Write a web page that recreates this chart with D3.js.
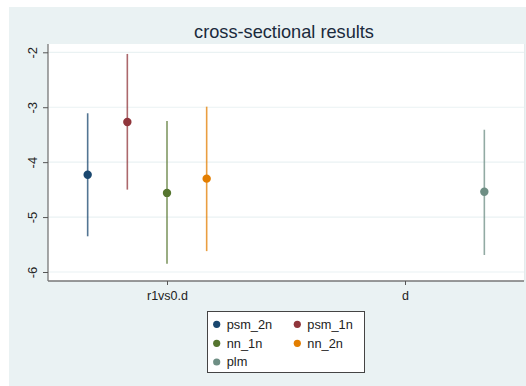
<!DOCTYPE html>
<html><head><meta charset="utf-8">
<script src="https://cdn.jsdelivr.net/npm/d3@7"></script>
<style>html,body{margin:0;padding:0;background:#fff;}svg{display:block;font-family:"Liberation Sans",Arial,sans-serif;}</style>
</head><body>
<svg id="c" width="526" height="386"></svg>
<script>
const title = "cross-sectional results";
const categories = ["r1vs0.d", "d"];
const models = ["psm_2n", "psm_1n", "nn_1n", "nn_2n", "plm"];
const modelCategory = ["r1vs0.d", "r1vs0.d", "r1vs0.d", "r1vs0.d", "d"];
const estimates = [-4.23, -3.27, -4.56, -4.30, -4.54];
const lower = [-5.35, -4.50, -5.85, -5.62, -5.69];
const upper = [-3.11, -2.03, -3.25, -2.99, -3.41];
const colors = ["#1a476f", "#90353b", "#55752f", "#e37e00", "#6e8e84"];
const yTicks = [-2, -3, -4, -5, -6];

const svg = d3.select("#c");
const W = 526, H = 386;
const plot = {l: 48, r: 524, t: 44, b: 281};

svg.append("rect").attr("x", 9).attr("y", 7).attr("width", W - 9).attr("height", H - 7).attr("fill", "#eaf2f3");
svg.append("rect").attr("x", plot.l).attr("y", plot.t).attr("width", plot.r - plot.l).attr("height", plot.b - plot.t).attr("fill", "#ffffff");

const x = d3.scaleLinear().domain([0.5, categories.length + 0.5]).range([plot.l, plot.r]);
const y = d3.scaleLinear().domain([-2, -6]).range([52.3, 272]);
y.domain([y.invert(plot.t), y.invert(plot.b)]).range([plot.t, plot.b]);

// gridlines
svg.append("g").selectAll("line").data(yTicks).join("line")
  .attr("x1", plot.l).attr("x2", plot.r)
  .attr("y1", d => y(d)).attr("y2", d => y(d))
  .attr("stroke", "#eaf2f3").attr("stroke-width", 1.2);

// y axis
const yAxis = svg.append("g").attr("transform", `translate(${plot.l},0)`)
  .call(d3.axisLeft(y).tickValues(yTicks).tickSize(5).tickPadding(9).tickFormat(d3.format("d")));
yAxis.select(".domain").attr("stroke", "#777").attr("stroke-width", 1.3).attr("d", `M0,${plot.t}V${plot.b}`);
yAxis.selectAll(".tick line").attr("stroke", "#555");
yAxis.selectAll(".tick text").attr("font-size", 13).attr("fill", "#222")
  .attr("text-anchor", "middle").attr("dy", 0)
  .text(d => "-" + Math.abs(d));
yAxis.selectAll(".tick").each(function(d){
  d3.select(this).select("text").attr("transform", `rotate(-90)`).attr("x", 0).attr("y", -11);
});

// x axis
const xAxis = svg.append("g").attr("transform", `translate(0,${plot.b})`)
  .call(d3.axisBottom(x).tickValues(categories.map((c, i) => i + 1)).tickSize(4).tickPadding(6)
    .tickFormat((d, i) => categories[i]));
xAxis.select(".domain").attr("stroke", "#777").attr("stroke-width", 1.3).attr("d", `M${plot.l},0H${plot.r}`);
xAxis.selectAll(".tick line").attr("stroke", "#555");
xAxis.selectAll(".tick text").attr("font-size", 12.5).attr("fill", "#222");

// right faint border
svg.append("line").attr("x1", plot.r + 0.5).attr("x2", plot.r + 0.5).attr("y1", plot.t).attr("y2", plot.b)
  .attr("stroke", "#e4ebec").attr("stroke-width", 1);

// marks
const px = i => x(categories.indexOf(modelCategory[i]) + 1 + (i - 2) / 6);
const g = svg.append("g");
models.forEach((m, i) => {
  g.append("line").attr("x1", px(i)).attr("x2", px(i))
    .attr("y1", y(lower[i])).attr("y2", y(upper[i]))
    .attr("stroke", colors[i]).attr("stroke-opacity", 0.75).attr("stroke-width", 1.6);
  g.append("circle").attr("cx", px(i)).attr("cy", y(estimates[i])).attr("r", 4.2).attr("fill", colors[i]);
});

// title
svg.append("text").attr("x", (plot.l + plot.r) / 2 - 2).attr("y", 38).attr("text-anchor", "middle")
  .attr("font-size", 18.2).attr("fill", "#1a2a3c").text(title);

// legend
const lg = svg.append("g");
lg.append("rect").attr("x", 207.5).attr("y", 311.5).attr("width", 157).attr("height", 61)
  .attr("fill", "#fff").attr("stroke", "#444").attr("stroke-width", 1);
const cols = [216.7, 297.3], rows = [324.3, 343.3, 362];
models.forEach((m, i) => {
  const cx = cols[i % 2], cy = rows[Math.floor(i / 2)];
  lg.append("circle").attr("cx", cx).attr("cy", cy).attr("r", 3.6).attr("fill", colors[i]);
  lg.append("text").attr("x", cx + 10).attr("y", cy).attr("dy", "0.35em")
    .attr("font-size", 12.8).attr("fill", "#222").text(m);
});
</script>
</body></html>
